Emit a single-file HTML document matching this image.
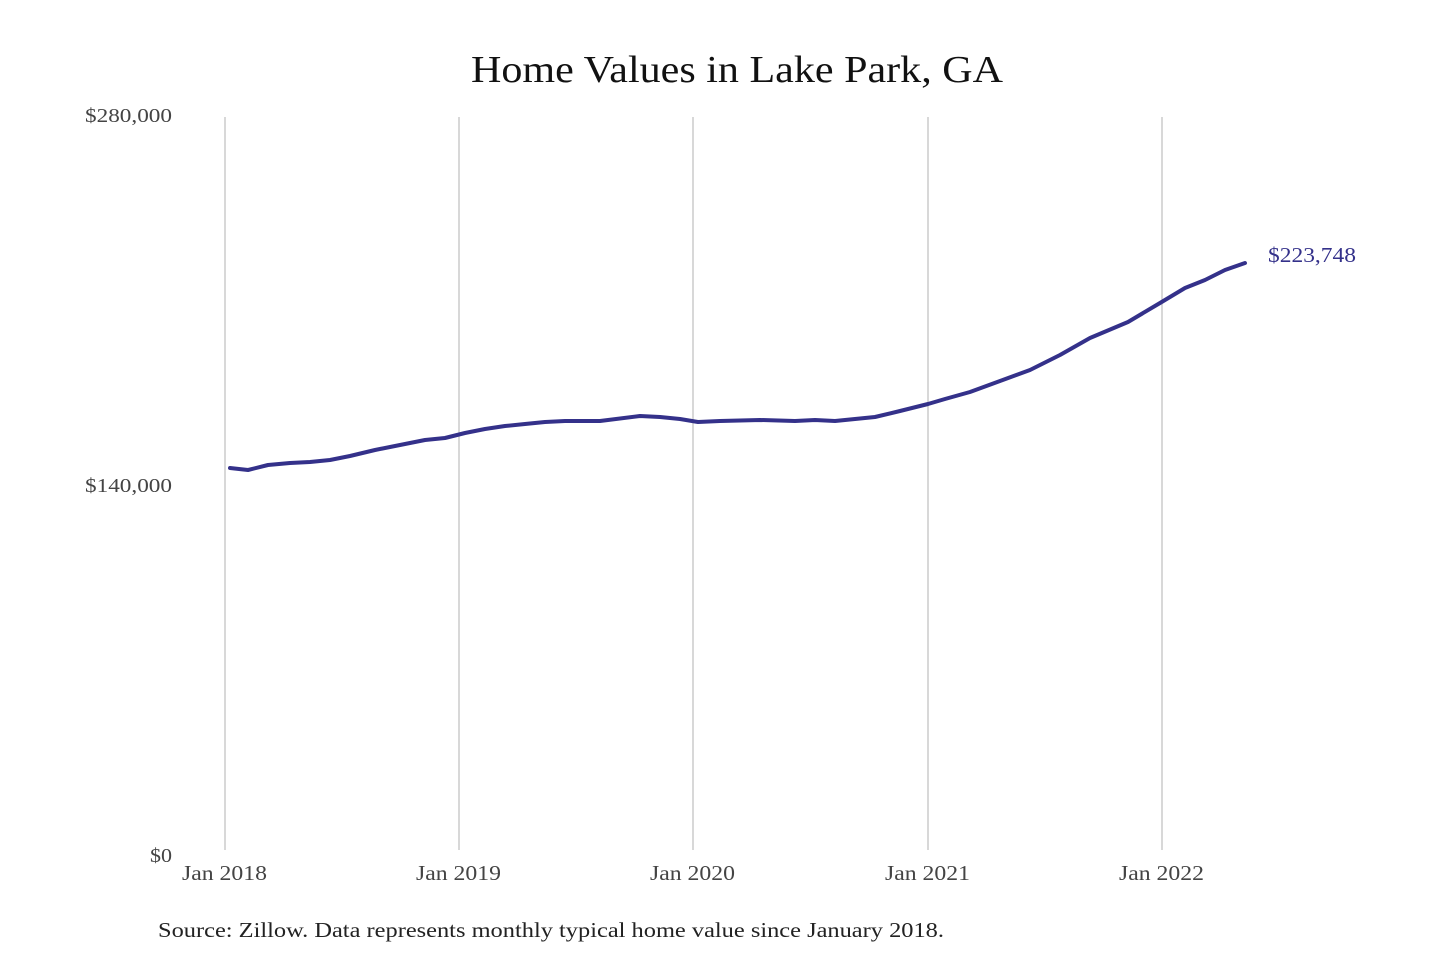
<!DOCTYPE html>
<html><head><meta charset="utf-8"><style>
html,body{margin:0;padding:0;background:#fff;}
svg{display:block;}
text{font-family:"Liberation Serif","DejaVu Serif",serif;}
</style></head><body>
<svg width="1440" height="960" viewBox="0 0 1440 960" xmlns="http://www.w3.org/2000/svg">
<text x="471" y="82" font-size="38" textLength="532" lengthAdjust="spacingAndGlyphs" fill="#111">Home Values in Lake Park, GA</text>
<g stroke="#bdbdbd" stroke-width="1.2">
<line x1="225" y1="117" x2="225" y2="850"/>
<line x1="459" y1="117" x2="459" y2="850"/>
<line x1="693" y1="117" x2="693" y2="850"/>
<line x1="928" y1="117" x2="928" y2="850"/>
<line x1="1162" y1="117" x2="1162" y2="850"/>
</g>
<g font-size="20" fill="#444">
<text x="85" y="122" textLength="87" lengthAdjust="spacingAndGlyphs">$280,000</text>
<text x="85" y="492" textLength="87" lengthAdjust="spacingAndGlyphs">$140,000</text>
<text x="150" y="862" textLength="22" lengthAdjust="spacingAndGlyphs">$0</text>
</g>
<g font-size="21" fill="#444">
<text x="182" y="880" textLength="85" lengthAdjust="spacingAndGlyphs">Jan 2018</text>
<text x="416" y="880" textLength="85" lengthAdjust="spacingAndGlyphs">Jan 2019</text>
<text x="650" y="880" textLength="85" lengthAdjust="spacingAndGlyphs">Jan 2020</text>
<text x="885" y="880" textLength="85" lengthAdjust="spacingAndGlyphs">Jan 2021</text>
<text x="1119" y="880" textLength="85" lengthAdjust="spacingAndGlyphs">Jan 2022</text>
</g>
<polyline fill="none" stroke="#34318a" stroke-width="4" stroke-linejoin="round" stroke-linecap="round"
points="230,468 248,470 268,465 290,463 310,462 330,460 350,456 375,450 400,445 425,440 445,438 465,433 485,429 505,426 525,424 545,422 565,421 600,421 640,416 660,417 680,419 698,422 720,421 760,420 795,421 815,420 835,421 855,419 875,417 900,411 928,404 945,399 970,392 1000,381 1030,370 1060,355 1090,338 1128,322 1160,303 1185,288 1205,280 1225,270 1245,263"/>
<text x="1268" y="262" font-size="21" fill="#34318a" textLength="88" lengthAdjust="spacingAndGlyphs">$223,748</text>
<text x="158" y="937" font-size="21" fill="#222" textLength="786" lengthAdjust="spacingAndGlyphs">Source: Zillow. Data represents monthly typical home value since January 2018.</text>
</svg>
</body></html>
